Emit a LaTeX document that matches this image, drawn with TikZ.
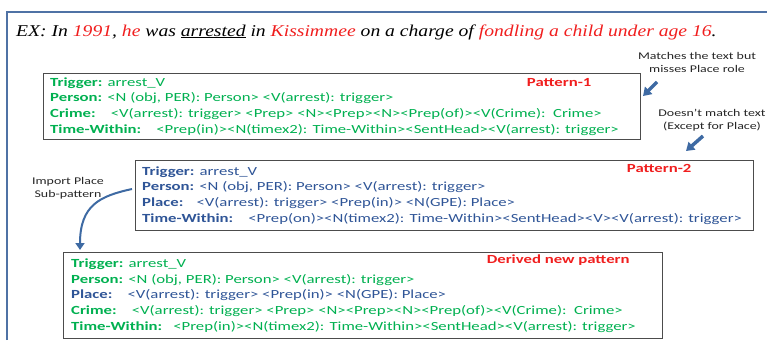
\documentclass[tikz,border=0pt]{standalone}
\usepackage{fontspec}
\setmainfont{Carlito}[FakeStretch=1.35]
\newfontfamily\exfont{Liberation Serif}[FakeStretch=1.19]
\usetikzlibrary{calc,positioning,arrows.meta}
\definecolor{rolegreen}{RGB}{0,176,80}
\definecolor{roleblue}{RGB}{47,85,151}
\definecolor{hitred}{RGB}{240,30,30}
\definecolor{frameblue}{RGB}{79,114,165}
\definecolor{arrowblue}{RGB}{62,106,163}

\begin{document}
\begin{tikzpicture}[x=1pt,y=-1pt,
    patbox/.style={draw=black!70, line width=1.2pt, anchor=north west, inner sep=0pt},
    rows/.style={align=left, anchor=west, inner sep=0pt, font=\fontsize{12.4}{15.8}\selectfont},
    tag/.style={text=hitred, font=\fontsize{12.4}{14}\selectfont\bfseries, inner sep=0pt},
    note/.style={align=center, text=black!85, inner sep=0pt, font=\fontsize{10.3}{13}\selectfont},
    hint/.style={arrowblue, line width=3.5pt, -{Triangle[width=10pt,length=8pt]}}]
    \useasboundingbox (0,0) rectangle (767,340);
    \draw[frameblue, line width=2pt] (7,340) |- (767,12);

    \node (ex) [anchor=base west, inner sep=0pt, font=\exfont\fontsize{16.5}{18}\selectfont\itshape] at (16,36)
        {EX: In \textcolor{hitred}{1991}, \textcolor{hitred}{he} was \underline{arrested} in \textcolor{hitred}{Kissimmee} on a charge of \textcolor{hitred}{fondling a child under age 16}.};

    % Pattern boxes
    \node (p1) [patbox, minimum width=597pt, minimum height=66pt] at (43,73) {};
    \node (p2) [patbox, minimum width=618pt, minimum height=70pt] at (135,160) {};
    \node (der) [patbox, minimum width=599pt, minimum height=86pt] at (63,252) {};

    \node (p1txt) [rows, text=rolegreen, right=7pt of p1.west] {%
        \textbf{Trigger:} arrest\_V\\
        \textbf{Person:} <N (obj, PER): Person> <V(arrest): trigger>\\
        \textbf{Crime:}\hspace{10pt} <V(arrest): trigger> <Prep> <N><Prep><N><Prep(of)><V(Crime):\ \ Crime>\\
        \textbf{Time-Within:}\hspace{10pt} <Prep(in)><N(timex2): Time-Within><SentHead><V(arrest): trigger>};
    \node (p2txt) [rows, text=roleblue, right=7pt of p2.west] {%
        \textbf{Trigger:} arrest\_V\\
        \textbf{Person:} <N (obj, PER): Person> <V(arrest): trigger>\\
        \textbf{Place:}\hspace{8pt} <V(arrest): trigger> <Prep(in)> <N(GPE): Place>\\
        \textbf{Time-Within:}\hspace{10pt} <Prep(on)><N(timex2): Time-Within><SentHead><V><V(arrest): trigger>};
    \node (dertxt) [rows, text=rolegreen, right=8pt of der.west] {%
        \textbf{Trigger:} arrest\_V\\
        \textbf{Person:} <N (obj, PER): Person> <V(arrest): trigger>\\
        \textcolor{roleblue}{\textbf{Place:}\hspace{10pt} <V(arrest): trigger> <Prep(in)> <N(GPE): Place>}\\
        \textbf{Crime:}\hspace{10pt} <V(arrest): trigger> <Prep> <N><Prep><N><Prep(of)><V(Crime):\ \ Crime>\\
        \textbf{Time-Within:}\hspace{6pt} <Prep(in)><N(timex2): Time-Within><SentHead><V(arrest): trigger>};

    \node (p1tag) [tag] at ($(p1.north east)+(-82,10)$) {Pattern-1};
    \node (p2tag) [tag] at ($(p2.north east)+(-95,8)$) {Pattern-2};
    \node (dertag) [tag] at ($(der.north east)+(-105,8)$) {Derived new pattern};

    % Notes
    \node (n1) [note] at (697,62) {Matches the text but\\misses Place role};
    \node (n2) [note] at (712,120) {Doesn’t match text\\(Except for Place)};
    \node (n3) [note] at (68,188) {Import Place\\Sub-pattern};

    \coordinate (a1s) at (657,82);
    \coordinate (a1e) at (643,96);
    \coordinate (a2s) at (703,136);
    \coordinate (a2e) at (686,151);
    \coordinate (a3s) at (132,189);
    \coordinate (a3e) at (80,250);

    \draw[hint] (a1s) -- (a1e);
    \draw[hint] (a2s) -- (a2e);
    \draw[arrowblue, line width=2pt, -{Triangle[width=9pt,length=7pt]}]
        (a3s) .. controls (100,196) and (80,205) .. (a3e);
\end{tikzpicture}
\end{document}
